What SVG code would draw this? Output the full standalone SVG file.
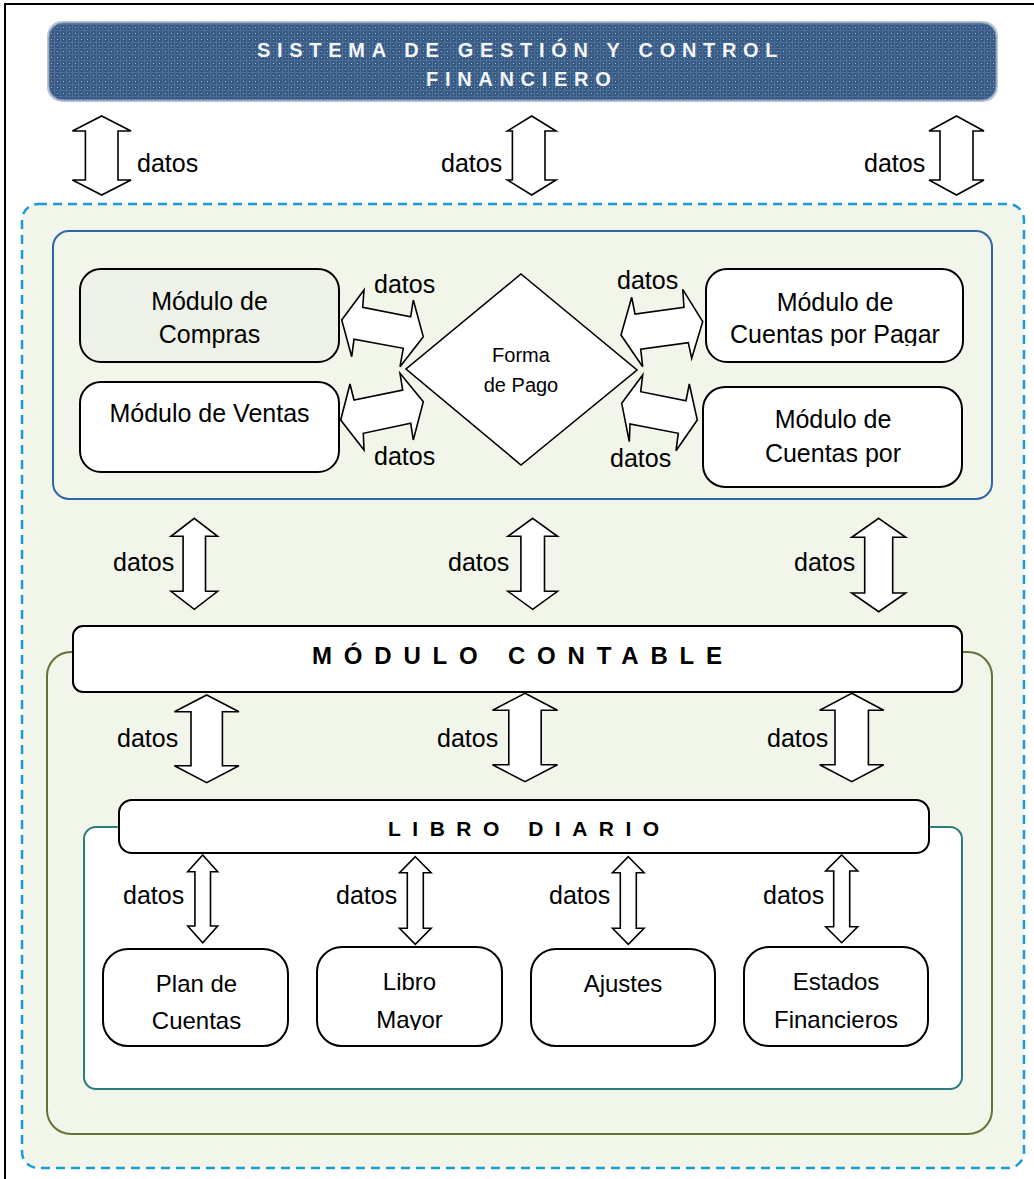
<svg xmlns="http://www.w3.org/2000/svg" width="1034" height="1179" viewBox="0 0 1034 1179">
  <defs>
    <pattern id="dots" width="6" height="6" patternUnits="userSpaceOnUse">
      <rect width="6" height="6" fill="#375a85"/>
      <rect x="0" y="0" width="6" height="1" fill="#4d6e97"/>
      <rect x="0" y="0" width="1" height="6" fill="#4d6e97"/>
      <rect x="3" y="3" width="1" height="1" fill="#a9bcd4"/>
    </pattern>
    <clipPath id="clipCxP"><rect x="700" y="260" width="270" height="86"/></clipPath>
    <clipPath id="clipMayor"><rect x="310" y="940" width="200" height="90"/></clipPath>
  </defs>
  <style>
    .frame { fill: none; stroke: #000; stroke-width: 2; }
    .node { fill: #fff; stroke: #000; stroke-width: 2; }
    .shade { fill: #eef1e7; }
    .arrow { fill: #fff; stroke: #000; stroke-width: 1.6; stroke-linejoin: miter; }
    .lbl { font-family: "Liberation Sans", Arial, sans-serif; font-size: 25px; fill: #000; }
    .txt { font-family: "Liberation Sans", Arial, sans-serif; font-size: 24px; fill: #000; text-anchor: middle; }
    .mod { font-size: 25px; }
    .small { font-family: "Liberation Sans", Arial, sans-serif; font-size: 20px; fill: #000; text-anchor: middle; }
    .title { font-family: "Liberation Sans", Arial, sans-serif; font-weight: bold; font-size: 20px; fill: #f4f6fa; letter-spacing: 6.7px; }
    .bar { font-family: "Liberation Sans", Arial, sans-serif; font-weight: bold; fill: #000; }
  </style>

  <rect width="1034" height="1179" fill="#fff"/>
  <!-- page frame -->
  <rect class="frame" x="5" y="4" width="1040" height="1200"/>

  <!-- title banner -->
  <g id="sistema">
    <rect x="47" y="21" width="951" height="81" rx="15" fill="#b9c5d6"/>
    <rect x="49" y="23" width="947" height="77" rx="14" fill="url(#dots)" stroke="#7f95b3" stroke-width="1"/>
    <text class="title" x="257" y="57">SISTEMA DE GESTIÓN Y CONTROL</text>
    <text class="title" x="426" y="86">FINANCIERO</text>
  </g>

  <!-- containers -->
  <g id="contenedores">
    <rect x="22" y="204" width="1002" height="964" rx="16" fill="#f2f5e9" stroke="#1a9ad8" stroke-width="2.5" stroke-dasharray="9 6"/>
    <rect x="53" y="231" width="939" height="268" rx="16" fill="none" stroke="#2f67a6" stroke-width="2"/>
    <rect x="47" y="652" width="945" height="482" rx="24" fill="none" stroke="#627232" stroke-width="2"/>
    <rect x="84" y="827" width="878" height="262" rx="12" fill="#fff" stroke="#2b7c7c" stroke-width="2"/>
  </g>

  <!-- connectors -->
  <g id="conectores">
    <!-- banner to system -->
    <path class="arrow" d="M101.7,116 L131,131 L118,131 L118,180 L131,180 L101.7,195 L72.4,180 L85.4,180 L85.4,131 L72.4,131 Z"/>
    <path class="arrow" d="M531.7,116 L556,131 L545,131 L545,180 L556,180 L531.7,195 L507.4,180 L512.4,180 L512.4,131 L507.4,131 Z"/>
    <path class="arrow" d="M956.5,116 L984,131 L973,131 L973,180 L984,180 L956.5,195 L929,180 L940,180 L940,131 L929,131 Z"/>

    <!-- modules to Forma de Pago -->
    <polygon class="arrow" points="341.7,320 364,290 362.7,307.3 410.7,316.7 413.3,300 423.3,336.7 400,366.7 403.3,348.3 354,339.3 351.7,356.7"/>
    <polygon class="arrow" points="340.7,420 350,384 354,400 402.7,390 400,373.3 423.3,401.7 413.3,440 410.7,423.3 363.3,433.3 364,450"/>
    <polygon class="arrow" points="621,335 631.7,297.3 635,314 684,307.3 682.7,289.3 702.7,321.7 691.7,358.3 688.3,342.7 640.7,349.3 642.7,366.7"/>
    <polygon class="arrow" points="621.7,403.3 642.7,375 640.7,391.7 686,400.7 689.3,384 697.3,420 676,450.7 678.3,433.3 630,424 629.3,441.7"/>

    <!-- modules to Módulo Contable -->
    <path class="arrow" d="M194.3,518.3 L217.6,536.3 L205.5,536.3 L205.5,591.3 L217.6,591.3 L194.3,609.3 L171,591.3 L183.1,591.3 L183.1,536.3 L171,536.3 Z"/>
    <path class="arrow" d="M532.7,518.3 L557.5,536.3 L544.5,536.3 L544.5,591.3 L557.5,591.3 L532.7,609.3 L507.9,591.3 L520.9,591.3 L520.9,536.3 L507.9,536.3 Z"/>
    <path class="arrow" d="M878.7,518.3 L905.7,537.3 L892.7,537.3 L892.7,593 L905.7,593 L878.7,611.7 L851.7,593 L864.7,593 L864.7,537.3 L851.7,537.3 Z"/>

    <!-- Módulo Contable to Libro Diario -->
    <path class="arrow" d="M206.7,695 L239,711.7 L222.4,711.7 L222.4,765.7 L239,765.7 L206.7,782.7 L174.4,765.7 L191,765.7 L191,711.7 L174.4,711.7 Z"/>
    <path class="arrow" d="M525,693.3 L557.5,710.3 L541.2,710.3 L541.2,764.7 L557.5,764.7 L525,781.7 L492.5,764.7 L508.8,764.7 L508.8,710.3 L492.5,710.3 Z"/>
    <path class="arrow" d="M851.7,693.3 L883.7,710.3 L868.4,710.3 L868.4,764.7 L883.7,764.7 L851.7,781.7 L819.7,764.7 L835,764.7 L835,710.3 L819.7,710.3 Z"/>

    <!-- Libro Diario to sub-modules -->
    <path class="arrow" d="M202.7,855 L217.7,871.7 L210.5,871.7 L210.5,926 L217.7,926 L202.7,942.7 L187.7,926 L194.9,926 L194.9,871.7 L187.7,871.7 Z"/>
    <path class="arrow" d="M415.3,856.7 L431.1,872.7 L423.3,872.7 L423.3,928.3 L431.1,928.3 L415.3,944.3 L399.5,928.3 L407.3,928.3 L407.3,872.7 L399.5,872.7 Z"/>
    <path class="arrow" d="M628.3,856.7 L644.1,872.7 L636.3,872.7 L636.3,928.3 L644.1,928.3 L628.3,944.3 L612.5,928.3 L620.3,928.3 L620.3,872.7 L612.5,872.7 Z"/>
    <path class="arrow" d="M841.7,855 L857.7,871 L849.7,871 L849.7,926.7 L857.7,926.7 L841.7,942.7 L825.7,926.7 L833.7,926.7 L833.7,871 L825.7,871 Z"/>

    <!-- labels -->
    <text class="lbl" x="137" y="172">datos</text>
    <text class="lbl" x="441" y="172">datos</text>
    <text class="lbl" x="864" y="172">datos</text>
    <text class="lbl" x="374" y="293">datos</text>
    <text class="lbl" x="374" y="465">datos</text>
    <text class="lbl" x="617" y="289">datos</text>
    <text class="lbl" x="610" y="467">datos</text>
    <text class="lbl" x="113" y="571">datos</text>
    <text class="lbl" x="448" y="571">datos</text>
    <text class="lbl" x="794" y="571">datos</text>
    <text class="lbl" x="117" y="747">datos</text>
    <text class="lbl" x="437" y="747">datos</text>
    <text class="lbl" x="767" y="747">datos</text>
    <text class="lbl" x="123" y="904">datos</text>
    <text class="lbl" x="336" y="904">datos</text>
    <text class="lbl" x="549" y="904">datos</text>
    <text class="lbl" x="763" y="904">datos</text>
  </g>

  <!-- upper modules -->
  <g id="compras">
    <rect class="node shade" x="80" y="269" width="259" height="93" rx="21"/>
    <text class="txt mod" x="209.5" y="310">Módulo de</text>
    <text class="txt mod" x="209.5" y="343">Compras</text>
  </g>
  <g id="ventas">
    <rect class="node" x="80" y="382" width="259" height="90" rx="21"/>
    <text class="txt mod" x="209.5" y="422">Módulo de Ventas</text>
  </g>
  <g id="forma-pago">
    <polygon points="521,274 637,370 521,465 406,369" fill="#fff" stroke="#000" stroke-width="1.6"/>
    <text class="small" x="521" y="362">Forma</text>
    <text class="small" x="521" y="392">de Pago</text>
  </g>
  <g id="cuentas-pagar">
    <rect class="node" x="706" y="269" width="257" height="93" rx="21"/>
    <text class="txt mod" x="835" y="311">Módulo de</text>
    <text class="txt mod" x="835" y="343" clip-path="url(#clipCxP)">Cuentas por Pagar</text>
  </g>
  <g id="cuentas-cobrar">
    <rect class="node" x="703" y="387" width="259" height="100" rx="22"/>
    <text class="txt mod" x="833" y="428">Módulo de</text>
    <text class="txt mod" x="833" y="462">Cuentas por</text>
  </g>

  <!-- accounting module -->
  <g id="modulo-contable">
    <rect class="node" x="73" y="626" width="889" height="66" rx="10"/>
    <text class="bar" x="312" y="664" font-size="24" letter-spacing="11.8">MÓDULO CONTABLE</text>
  </g>

  <g id="libro-diario">
    <rect class="node" x="119" y="800" width="810" height="53" rx="13"/>
    <text class="bar" x="388" y="836" font-size="21" letter-spacing="11.5">LIBRO DIARIO</text>
  </g>

  <!-- sub-modules -->
  <g id="plan-cuentas">
    <rect class="node" x="103" y="949" width="185" height="97" rx="25"/>
    <text class="txt" x="196.5" y="992">Plan de</text>
    <text class="txt" x="196.5" y="1029">Cuentas</text>
  </g>
  <g id="libro-mayor">
    <rect class="node" x="317" y="947" width="185" height="99" rx="25"/>
    <text class="txt" x="409.5" y="990">Libro</text>
    <text class="txt" x="409.5" y="1028" clip-path="url(#clipMayor)">Mayor</text>
  </g>
  <g id="ajustes">
    <rect class="node" x="531" y="949" width="184" height="97" rx="25"/>
    <text class="txt" x="623" y="992">Ajustes</text>
  </g>
  <g id="estados-financieros">
    <rect class="node" x="744" y="947" width="184" height="99" rx="25"/>
    <text class="txt" x="836" y="990">Estados</text>
    <text class="txt" x="836" y="1028">Financieros</text>
  </g>
</svg>
